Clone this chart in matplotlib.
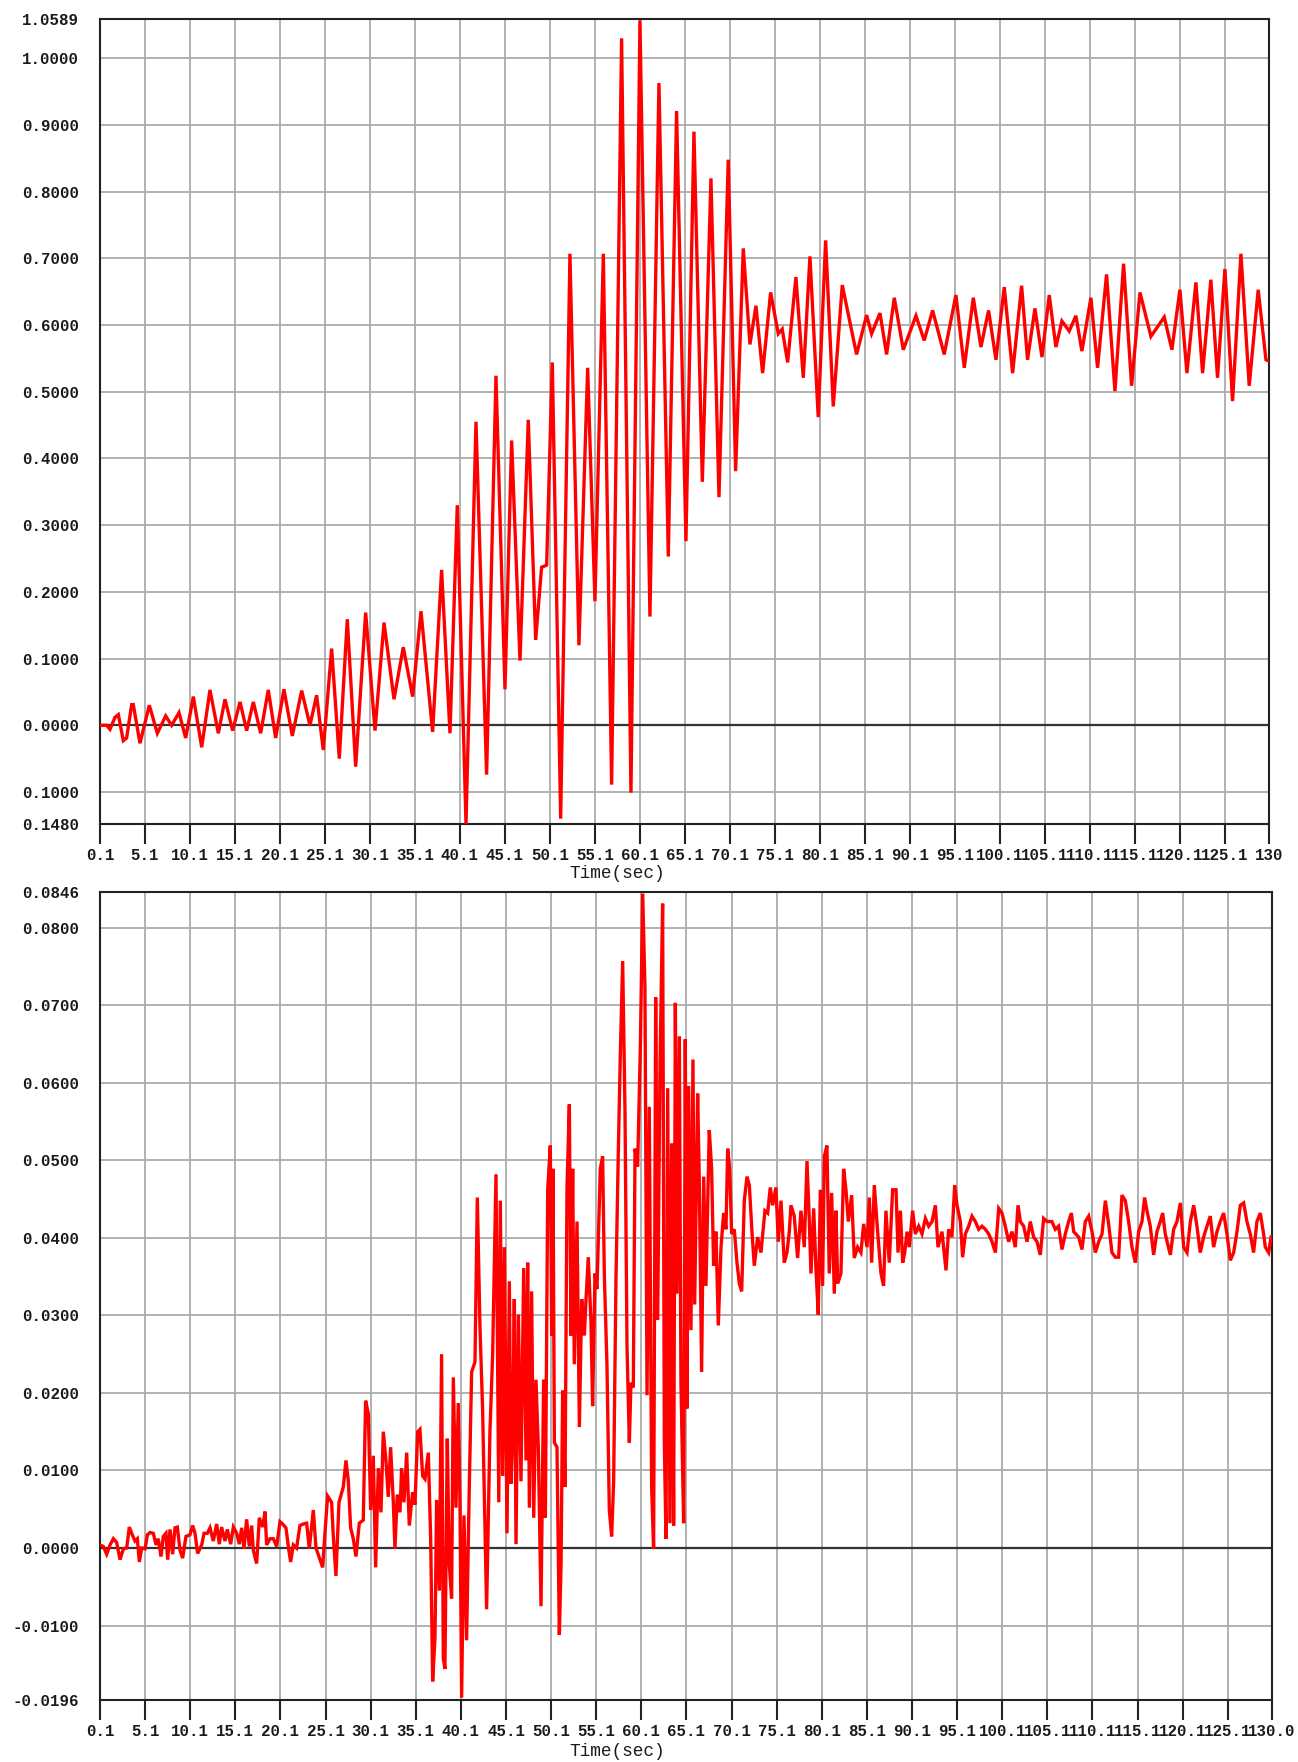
import matplotlib
matplotlib.use("Agg")
import matplotlib.pyplot as plt
import numpy as np

# ---------------- data ----------------
# Upper record: time (s) and response value at successive peaks / troughs
top_t = [0.1, 0.84, 1.21, 1.77, 2.14, 2.69, 3.06, 3.62, 3.80, 4.54, 5.58, 6.47, 7.40, 8.06, 8.88,
         9.62, 10.47, 11.40, 12.32, 13.25, 13.99, 14.84, 15.66, 16.40, 17.14, 17.95, 18.80, 19.62,
         20.54, 21.47, 22.51, 23.43, 24.17, 24.91, 25.84, 26.69, 27.58, 28.51, 29.62, 30.66, 31.66,
         32.77, 33.80, 34.84, 35.77, 37.06, 38.06, 38.99, 39.80, 40.77, 41.88, 43.06, 44.10,
         45.10, 45.84, 46.77, 47.69, 48.51, 49.17, 49.73, 50.36, 51.29, 52.32, 53.32, 54.29, 55.10,
         56.03, 56.95, 58.06, 59.10, 60.10, 61.21, 62.21, 63.25, 64.17, 65.21, 66.10, 67.03, 67.99,
         68.88, 69.91, 70.73, 71.58, 72.32, 72.99, 73.73, 74.62, 75.47, 75.91, 76.51, 77.43, 78.25,
         78.99, 79.91, 80.73, 81.58, 82.58, 84.17, 85.29, 85.84, 86.77, 87.51,
         88.36, 89.36, 90.77, 91.69, 92.62, 93.91, 95.21, 96.14, 97.14, 97.99, 98.84, 99.66, 100.58,
         101.51, 102.51, 103.17, 103.99, 104.77, 105.58, 106.32, 106.99, 107.80, 108.54, 109.21,
         110.21, 110.95, 111.95, 112.88, 113.84, 114.73, 115.66, 116.88, 118.36, 119.21, 120.10,
         120.88, 121.88, 122.62, 123.54, 124.28, 125.10, 125.95, 126.88, 127.80, 128.80, 129.66, 130.0]
top_v = [0.000, 0.000, -0.006, 0.012, 0.016, -0.023, -0.019, 0.031, 0.031, -0.027, 0.030, -0.012,
         0.014, 0.000, 0.019, -0.019, 0.043, -0.033, 0.053, -0.012, 0.039, -0.008, 0.035, -0.008,
         0.035, -0.012, 0.053, -0.019, 0.054, -0.016, 0.052, 0.000, 0.045, -0.037, 0.115, -0.050,
         0.159, -0.062, 0.169, -0.008, 0.154, 0.039, 0.117, 0.043, 0.171, -0.010, 0.233, -0.012,
         0.330, -0.148, 0.455, -0.074, 0.524,
         0.054, 0.427, 0.097, 0.458, 0.128, 0.237, 0.240, 0.544, -0.140, 0.707, 0.120, 0.536, 0.186,
         0.707, -0.089, 1.030, -0.101, 1.057, 0.163, 0.963, 0.253, 0.921, 0.276, 0.890, 0.365, 0.820,
         0.342, 0.848, 0.381, 0.715, 0.571, 0.629, 0.528, 0.649, 0.587, 0.594, 0.544, 0.672, 0.521,
         0.703, 0.462, 0.727, 0.478, 0.660, 0.556, 0.615, 0.587, 0.618, 0.556,
         0.641, 0.563, 0.614, 0.577, 0.622, 0.556, 0.645, 0.536, 0.641, 0.567, 0.622, 0.548, 0.657,
         0.528, 0.659, 0.548, 0.625, 0.552, 0.645, 0.567, 0.606, 0.591, 0.614, 0.561, 0.641, 0.536,
         0.676, 0.501, 0.692, 0.509, 0.649, 0.583, 0.612, 0.563, 0.653, 0.528, 0.664, 0.528, 0.668,
         0.521, 0.684, 0.486, 0.707, 0.509, 0.653, 0.548, 0.546]

# Lower record: time (s) and value
bot_t = [0.10, 0.47, 0.84, 1.21, 1.58, 1.95, 2.32, 2.69, 3.06, 3.35, 3.61, 3.98, 4.24, 4.46, 4.72,
         5.09, 5.35, 5.64, 6.01, 6.31, 6.56, 6.86, 7.12, 7.41, 7.60, 7.86, 8.15, 8.41, 8.67, 8.97,
         9.26, 9.63, 10.07, 10.37, 10.63, 10.92, 11.37, 11.63, 12.00, 12.29, 12.66, 13.03, 13.32,
         13.58, 13.95, 14.21, 14.58, 14.88, 15.25, 15.54, 15.80, 16.06, 16.35, 16.65, 16.91, 17.09,
         17.46, 17.76, 18.13, 18.39, 18.57, 18.94, 19.31, 19.68, 20.05, 20.34, 20.71, 21.01, 21.23,
         21.53, 21.89, 22.26, 22.63, 23.00, 23.30, 23.74, 24.04, 24.48, 24.78, 25.03, 25.33, 25.77,
         25.96, 26.25, 26.59, 27.07, 27.36, 27.62, 27.88, 28.17, 28.47, 28.84, 29.28, 29.54, 29.84,
         30.10, 30.39, 30.65, 30.95, 31.24, 31.50, 31.79, 32.05, 32.31, 32.61, 32.79, 33.05, 33.35,
         33.53, 33.79, 34.09, 34.38, 34.75, 35.01, 35.31, 35.56, 35.86, 36.12, 36.49, 36.75, 36.97,
         37.23, 37.41, 37.71, 37.96, 38.15, 38.33, 38.59, 38.81, 39.07, 39.26, 39.55, 39.81, 40.00,
         40.18, 40.44, 40.73, 41.03, 41.29, 41.66, 41.92, 42.21, 42.51, 42.95, 43.32, 43.62, 43.99,
         44.30, 44.47, 44.73, 44.92, 45.21, 45.47, 45.65, 45.84, 46.02, 46.21, 46.47, 46.76, 47.06,
         47.32, 47.50, 47.69, 47.94, 48.17, 48.42, 48.68, 48.98, 49.27, 49.46, 49.72, 50.01, 50.16,
         50.31, 50.46, 50.75, 51.01, 51.20, 51.38, 51.64, 51.86, 52.12, 52.30, 52.49, 52.67, 52.97,
         53.23, 53.49, 53.78, 53.97, 54.22, 54.52, 54.70, 54.96, 55.18, 55.55, 55.81, 56.00, 56.29,
         56.55, 56.81, 57.03, 57.29, 57.55, 57.77, 58.03, 58.29, 58.51, 58.77, 58.95, 59.21, 59.40,
         59.69, 59.99, 60.25, 60.50, 60.73, 60.98, 61.24, 61.46, 61.69, 61.91, 62.17, 62.46, 62.65,
         62.83, 63.02, 63.27, 63.46, 63.68, 63.87, 64.05, 64.31, 64.49, 64.79, 64.97, 65.16, 65.34,
         65.60, 65.82, 66.01, 66.34, 66.52, 66.78, 67.01, 67.26, 67.63, 67.89, 68.11, 68.37, 68.63,
         68.93, 69.22, 69.48, 69.67, 69.89, 70.11, 70.40, 70.70, 70.96, 71.22, 71.51, 71.81, 72.07,
         72.36, 72.62, 72.99, 73.36, 73.80, 74.10, 74.39, 74.65, 75.02, 75.28, 75.58, 75.94, 76.24,
         76.50, 76.68, 77.05, 77.42, 77.79, 78.16, 78.46, 78.72, 78.90, 79.20, 79.46, 79.71, 79.94,
         80.19, 80.38, 80.67, 80.93, 81.19, 81.49, 81.67, 81.86, 82.22, 82.52, 82.78, 83.04, 83.41,
         83.70, 84.07, 84.44, 84.74, 85.11, 85.37, 85.63, 85.92, 86.29, 86.66, 86.95, 87.21, 87.58,
         87.95, 88.33, 88.55, 88.81, 89.07, 89.29, 89.55, 89.80, 90.17, 90.47, 90.84, 91.21, 91.58,
         91.95, 92.32, 92.69, 92.98, 93.42, 93.87, 94.16, 94.53, 94.83, 95.09, 95.46, 95.71, 96.01,
         96.38, 96.75, 97.12, 97.49, 97.86, 98.23, 98.60, 98.97, 99.34, 99.71, 100.07, 100.44,
         100.81, 101.18, 101.55, 101.85, 102.11, 102.48, 102.85, 103.21, 103.58, 103.95, 104.32,
         104.69, 105.06, 105.61, 105.98, 106.35, 106.72, 107.09, 107.46, 107.76, 108.02, 108.57,
         108.94, 109.31, 109.68, 110.05, 110.42, 110.79, 111.16, 111.53, 111.89, 112.26, 112.63,
         113.00, 113.37, 113.74, 114.11, 114.48, 114.85, 115.22, 115.59, 115.88, 116.14, 116.51,
         116.88, 117.25, 117.62, 117.88, 118.17, 118.73, 119.10, 119.47, 119.84, 120.21, 120.58,
         120.95, 121.32, 121.68, 122.05, 122.42, 122.79, 123.16, 123.53, 123.90, 124.27, 124.64,
         125.01, 125.38, 125.75, 126.12, 126.49, 126.86, 127.22, 127.59, 127.96, 128.33, 128.70,
         129.07, 129.26, 129.63, 129.90]
bot_v = [0.0004, 0.0002, -0.0008, 0.0004, 0.0012, 0.0007, -0.0015, -0.0001, 0.0000, 0.0027, 0.0019,
         0.0009, 0.0012, -0.0018, 0.0000, -0.0001, 0.0017, 0.0020, 0.0019, 0.0004, 0.0012, -0.0011,
         0.0015, 0.0019, -0.0015, 0.0024, -0.0008, 0.0026, 0.0027, -0.0003, -0.0013, 0.0015, 0.0017,
         0.0029, 0.0019, -0.0007, 0.0004, 0.0019, 0.0019, 0.0026, 0.0009, 0.0031, 0.0005, 0.0027,
         0.0009, 0.0024, 0.0005, 0.0027, 0.0019, 0.0005, 0.0026, -0.0001, 0.0037, 0.0002, 0.0029,
         -0.0003, -0.0020, 0.0039, 0.0027, 0.0047, 0.0004, 0.0012, 0.0012, 0.0002, 0.0034, 0.0031,
         0.0026, -0.0001, -0.0018, 0.0004, 0.0000, 0.0029, 0.0031, 0.0032, -0.0001, 0.0049, 0.0000,
         -0.0015, -0.0025, 0.0019, 0.0067, 0.0059, 0.0015, -0.0036, 0.0059, 0.0079, 0.0113, 0.0087,
         0.0026, 0.0012, -0.0011, 0.0032, 0.0036, 0.0190, 0.0173, 0.0049, 0.0119, -0.0025, 0.0103,
         0.0046, 0.0150, 0.0113, 0.0066, 0.0130, 0.0059, -0.0001, 0.0069, 0.0046, 0.0103, 0.0059,
         0.0123, 0.0029, 0.0072, 0.0056, 0.0150, 0.0153, 0.0093, 0.0089, 0.0123, 0.0012, -0.0172,
         -0.0115, 0.0062, -0.0055, 0.0250, -0.0142, -0.0156, 0.0141, -0.0021, -0.0065, 0.0220, 0.0052,
         0.0187, 0.0059, -0.0193, 0.0042, -0.0119, 0.0079, 0.0227, 0.0240, 0.0452, 0.0287, 0.0177,
         -0.0079, 0.0150, 0.0250, 0.0482,
         0.0059, 0.0448, 0.0093, 0.0388, 0.0019, 0.0344, 0.0083, 0.0146, 0.0321, 0.0005, 0.0301,
         0.0086, 0.0361, 0.0113, 0.0368, 0.0052, 0.0331, 0.0039, 0.0217, 0.0130, -0.0075, 0.0217,
         0.0039, 0.0462, 0.0519, 0.0274, 0.0489, 0.0136, 0.0130, -0.0112, -0.0021, 0.0203, 0.0079,
         0.0465, 0.0572, 0.0274, 0.0489, 0.0237, 0.0421, 0.0156, 0.0321, 0.0274, 0.0321, 0.0375,
         0.0291, 0.0183, 0.0354, 0.0334, 0.0489, 0.0505, 0.0351, 0.0237, 0.0049, 0.0015, 0.0086,
         0.0348, 0.0512, 0.0636, 0.0757, 0.0562, 0.0260, 0.0136, 0.0213, 0.0207, 0.0515, 0.0492,
         0.0646, 0.0844, 0.0723, 0.0197, 0.0569, 0.0079, -0.0001, 0.0710, 0.0294, 0.0623, 0.0831,
         0.0136, 0.0012, 0.0593, 0.0032, 0.0522, 0.0029, 0.0703, 0.0328, 0.0660, 0.0213, 0.0032,
         0.0656, 0.0180, 0.0596, 0.0281, 0.0630, 0.0314, 0.0586, 0.0475, 0.0227, 0.0479, 0.0338,
         0.0539, 0.0489, 0.0364, 0.0408, 0.0287, 0.0388, 0.0432, 0.0411, 0.0515, 0.0489, 0.0405,
         0.0411, 0.0368, 0.0341, 0.0331, 0.0448, 0.0479, 0.0468, 0.0408, 0.0364, 0.0401, 0.0381,
         0.0435, 0.0432, 0.0465, 0.0442, 0.0465, 0.0395, 0.0448, 0.0368, 0.0381, 0.0408, 0.0442,
         0.0428, 0.0374, 0.0435, 0.0388, 0.0499, 0.0421, 0.0354, 0.0438, 0.0358, 0.0301, 0.0462,
         0.0338, 0.0505, 0.0519, 0.0354, 0.0458, 0.0328, 0.0435, 0.0341, 0.0354, 0.0489, 0.0462,
         0.0421, 0.0455, 0.0374, 0.0388, 0.0381, 0.0418, 0.0388, 0.0452, 0.0368, 0.0468, 0.0408,
         0.0354, 0.0338, 0.0435, 0.0368, 0.0462,
         0.0462, 0.0381, 0.0435, 0.0368, 0.0381, 0.0408, 0.0388, 0.0435, 0.0405, 0.0415, 0.0405,
         0.0425, 0.0415, 0.0421, 0.0442, 0.0388, 0.0408, 0.0358, 0.0411, 0.0401, 0.0468, 0.0442,
         0.0421, 0.0375, 0.0405, 0.0415, 0.0428, 0.0421, 0.0411, 0.0415, 0.0411, 0.0405, 0.0395,
         0.0381, 0.0438, 0.0432, 0.0415, 0.0395, 0.0408, 0.0388, 0.0442, 0.0421, 0.0415, 0.0395,
         0.0421, 0.0401, 0.0395, 0.0378, 0.0425, 0.0421, 0.0421, 0.0411, 0.0415, 0.0385, 0.0405,
         0.0421, 0.0432, 0.0408, 0.0401, 0.0385, 0.0421, 0.0428, 0.0408, 0.0381, 0.0395, 0.0405,
         0.0448, 0.0418, 0.0381, 0.0375, 0.0375, 0.0455, 0.0448, 0.0421, 0.0388, 0.0368, 0.0408,
         0.0421, 0.0452, 0.0435, 0.0415, 0.0378, 0.0408, 0.0421, 0.0432, 0.0405, 0.0378, 0.0411,
         0.0421, 0.0445, 0.0388, 0.0381, 0.0421, 0.0442, 0.0415, 0.0381, 0.0401, 0.0415, 0.0428,
         0.0388, 0.0408, 0.0421, 0.0432, 0.0405, 0.0371, 0.0381, 0.0408, 0.0442, 0.0445, 0.0421,
         0.0405, 0.0381, 0.0421, 0.0432, 0.0405, 0.0388, 0.0381, 0.0401]

# Axis ticks
x_ticks = [0.1 + 5 * i for i in range(26)] + [130.0]
x_labels_top = ["%.1f" % v for v in x_ticks[:-1]] + ["130"]
x_labels_bot = ["%.1f" % v for v in x_ticks[:-1]] + ["130.0"]

top_yticks = [1.0589, 1.0, 0.9, 0.8, 0.7, 0.6, 0.5, 0.4, 0.3, 0.2, 0.1, 0.0, -0.1, -0.148]
top_ylabels = ["1.0589", "1.0000", "0.9000", "0.8000", "0.7000", "0.6000", "0.5000", "0.4000",
               "0.3000", "0.2000", "0.1000", "0.0000", "0.1000", "0.1480"]
bot_yticks = [0.0846, 0.08, 0.07, 0.06, 0.05, 0.04, 0.03, 0.02, 0.01, 0.0, -0.01, -0.0196]
bot_ylabels = ["0.0846", "0.0800", "0.0700", "0.0600", "0.0500", "0.0400", "0.0300", "0.0200",
               "0.0100", "0.0000", "-0.0100", "-0.0196"]

# ---------------- drawing ----------------
W, H = 1298, 1762
fig = plt.figure(figsize=(W / 100, H / 100), dpi=100)
fig.patch.set_facecolor("white")

FONT = dict(family="Liberation Mono", weight="bold", size=11.3)
TXT = "#1a1a1a"


def panel(rect, t, v, ylim, yticks, ylabels, xlabels, xlabel_y):
    ax = fig.add_axes(rect)
    ax.plot(t, v, color="#ff0000", lw=2.4, solid_joinstyle="miter", zorder=3)
    ax.axhline(0.0, color="#333333", lw=1.6, zorder=2)
    ax.set_xlim(0.1, 130.0)
    ax.set_ylim(*ylim)
    ax.set_xticks(x_ticks)
    ax.set_xticklabels(xlabels, fontdict=FONT, color=TXT)
    ax.set_yticks(yticks)
    ax.set_yticklabels(ylabels, fontdict=FONT, color=TXT)
    ax.grid(True, color="#ababab", lw=1.3, zorder=1)
    ax.tick_params(axis="x", direction="out", length=14.5, width=1.5, color="#222222", pad=3)
    ax.tick_params(axis="y", length=0, pad=15)
    for s in ax.spines.values():
        s.set_color("#222222")
        s.set_linewidth(1.5)
    fig.text(617 / W, 1 - xlabel_y / H, "Time(sec)", ha="center", va="center",
             family="Liberation Mono", size=12.8, color=TXT)
    return ax


panel([100 / W, 1 - 824 / H, 1169 / W, 805 / H], top_t, top_v, (-0.148, 1.0589),
      top_yticks, top_ylabels, x_labels_top, 874)
panel([100 / W, 1 - 1700 / H, 1172 / W, 808 / H], bot_t, bot_v, (-0.0196, 0.0846),
      bot_yticks, bot_ylabels, x_labels_bot, 1751)

fig.savefig("out.png", dpi=100, facecolor="white")
